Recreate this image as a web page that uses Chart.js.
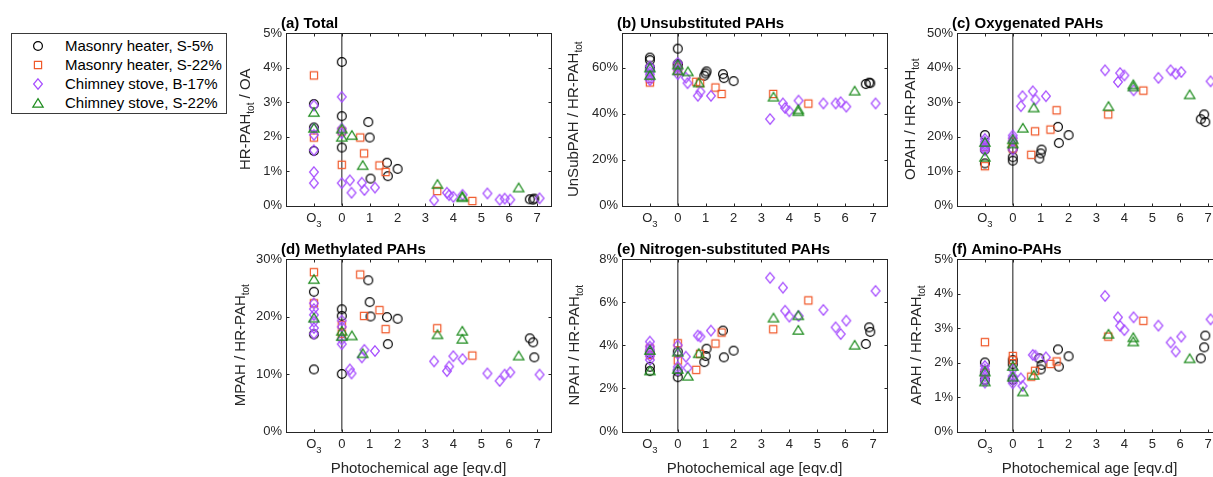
<!DOCTYPE html>
<html><head><meta charset="utf-8">
<script src="https://cdn.jsdelivr.net/npm/chart.js@4.4.1/dist/chart.umd.min.js"></script>
<style>
html,body{margin:0;padding:0;overflow:hidden;background:#fff;width:1213px;height:477px;position:relative;}
canvas.panel{position:absolute;}
#legendBox{position:absolute;left:11px;top:33px;width:216px;height:81px;border:1px solid #3a3a3a;box-sizing:border-box;}
.lgm{position:absolute;}
.lgt{position:absolute;font-family:"Liberation Sans",Arial,sans-serif;font-size:15px;color:#000;white-space:nowrap;line-height:18px;}
</style></head><body>
<div id="legendBox"></div>
<script>
// ---------------- DATA ----------------
const seriesNames = ['Masonry heater, S-5%', 'Masonry heater, S-22%', 'Chimney stove, B-17%', 'Chimney stove, S-22%'];
const xTickValues = [-1, 0, 1, 2, 3, 4, 5, 6, 7];
const xTickLabels = ['O3', '0', '1', '2', '3', '4', '5', '6', '7'];

// photochemical age (x) per series; -1 = O3 position
const xMasonryS5  = [-1, -1, -1, 0, 0, 0, 0.95, 1.0, 1.03, 1.62, 1.65, 2.0, 6.74, 6.86, 6.9];
const xMasonryS22 = [-1, -1, 0, 0, 0.66, 0.8, 1.35, 1.57, 3.42, 4.68];
const xChimneyB17 = [-1, -1, -1, -1, -1, -1, 0, 0, 0, 0, 0.29, 0.35, 0.72, 0.81, 1.19, 3.31, 3.77, 3.85, 4.0, 4.33, 5.22, 5.66, 5.84, 6.04, 7.09];
const xChimneyS22 = [-1, -1, 0, 0, 0.36, 0.75, 3.43, 4.32, 4.32, 6.34];

// (a) Total HR-PAH / OA [%]
const totalS5  = [2.94, 2.26, 1.58, 4.16, 2.59, 1.68, 2.42, 1.97, 0.78, 1.24, 0.85, 1.06, 0.18, 0.17, 0.2];
const totalS22 = [3.77, 1.97, 1.18, 2.15, 1.97, 1.51, 1.16, 0.97, 0.42, 0.13];
const totalB17 = [2.9, 2.23, 2.05, 1.6, 0.97, 0.65, 3.15, 2.23, 2.1, 0.65, 0.73, 0.37, 0.66, 0.45, 0.52, 0.15, 0.37, 0.3, 0.25, 0.31, 0.35, 0.17, 0.2, 0.17, 0.21];
const totalCS22 = [2.71, 2.25, 2.23, 1.99, 2.04, 1.17, 0.62, 0.27, 0.24, 0.52];

// (b) Unsubstituted PAHs [%]
const unsubS5  = [64.3, 63.2, 60, 68.2, 61.6, 61, 56.4, 57.4, 58.3, 57.1, 55.4, 54.1, 52.8, 53.4, 53.2];
const unsubS22 = [53.5, 55, 58.5, 60, 53.8, 53.2, 51.3, 48.5, 48.5, 44.3];
const unsubB17 = [60.5, 59.3, 58, 57, 55.7, 54.5, 62, 60.5, 59, 57.1, 55.6, 53.2, 47.7, 49.5, 47.7, 37.6, 44.4, 42.4, 41.0, 45.6, 44.4, 44.4, 44.9, 43.0, 44.4];
const unsubCS22 = [60.0, 56.7, 61.3, 58.8, 58.3, 53.5, 47.3, 41.8, 41.0, 49.9];

// (c) Oxygenated PAHs [%]
const oxyS5  = [20.4, 16.2, 12.2, 14.0, 13.0, 16.5, 13.6, 15.1, 16.2, 22.8, 18.1, 20.4, 25.0, 26.4, 24.2];
const oxyS22 = [11.4, 17, 16.5, 18.5, 14.7, 21.5, 22.0, 27.6, 26.4, 33.3];
const oxyB17 = [19.3, 18.5, 17.8, 17.2, 16.5, 16.0, 20.3, 19.5, 18.7, 16.2, 28.8, 31.7, 33.1, 30.7, 31.7, 39.2, 35.8, 38.4, 37.7, 33.4, 37.0, 39.2, 38.2, 38.7, 36.0];
const oxyCS22 = [18.4, 14.1, 19.2, 18.0, 22.5, 28.4, 28.8, 35.1, 34.5, 32.2];

// (d) Methylated PAHs [%]
const methS5  = [24.3, 16.9, 10.8, 21.25, 20.1, 10.0, 26.3, 22.5, 20.0, 19.9, 15.2, 19.6, 16.2, 15.5, 12.9];
const methS22 = [27.7, 22.3, 18.5, 17.0, 27.3, 20.1, 21.1, 17.8, 17.95, 13.2];
const methB17 = [22.3, 21.3, 20.3, 19.1, 18.0, 17.0, 19.3, 18.2, 16.0, 15.2, 10.8, 10.1, 12.9, 14.2, 14.0, 12.2, 10.5, 11.3, 13.1, 12.6, 10.1, 8.8, 9.9, 10.3, 9.9];
const methCS22 = [26.5, 19.8, 17.5, 16.6, 16.7, 13.6, 16.9, 17.5, 16.1, 13.2];

// (e) Nitrogen-substituted PAHs [%]
const nitS5  = [3.0, 2.8, 3.65, 3.71, 2.78, 2.52, 3.22, 3.5, 3.84, 4.68, 3.44, 3.75, 4.06, 4.83, 4.62];
const nitS22 = [3.55, 3.85, 4.09, 3.29, 2.86, 3.6, 4.08, 4.59, 4.74, 6.08];
const nitB17 = [4.17, 3.94, 3.8, 3.71, 3.5, 3.32, 4.0, 3.6, 3.0, 2.86, 3.47, 2.95, 4.45, 4.4, 4.68, 7.13, 6.67, 5.6, 5.33, 5.36, 5.64, 4.83, 4.52, 5.14, 6.52];
const nitCS22 = [3.78, 2.83, 3.7, 2.9, 2.58, 3.63, 5.28, 5.39, 4.71, 4.02];

// (f) Amino-PAHs [%]
const aminoS5  = [2.0, 1.7, 1.5, 2.07, 1.95, 1.5, 2.12, 1.8, 1.93, 2.38, 1.88, 2.18, 2.12, 2.44, 2.78];
const aminoS22 = [2.59, 1.7, 2.19, 2.07, 1.59, 1.76, 1.96, 2.03, 2.75, 3.21];
const aminoB17 = [1.9, 1.8, 1.7, 1.6, 1.5, 1.42, 1.8, 1.6, 1.5, 1.4, 1.54, 1.32, 2.22, 2.2, 2.15, 3.93, 3.31, 3.06, 2.94, 3.31, 3.07, 2.58, 2.32, 2.75, 3.25];
const aminoCS22 = [1.74, 1.45, 1.9, 1.59, 1.16, 1.64, 2.83, 2.73, 2.61, 2.12];

// y tick values per panel
const yTicksTotal = [0, 1, 2, 3, 4, 5];
const yTicksUnsub = [0, 20, 40, 60];
const yTicksOxy = [0, 10, 20, 30, 40, 50];
const yTicksMeth = [0, 10, 20, 30];
const yTicksNit = [0, 2, 4, 6, 8];
const yTicksAmino = [0, 1, 2, 3, 4, 5];

// ---------------- STYLE / LAYOUT ----------------
const FONT = '"Liberation Sans", Arial, Helvetica, sans-serif';
const seriesColors = ['#000000', '#F0592A', '#A64DFF', '#1E8C1E'];
const seriesShapes = ['circle', 'square', 'diamond', 'triangle'];
const seriesX = [xMasonryS5, xMasonryS22, xChimneyB17, xChimneyS22];
const PLOT_W = 265, PLOT_H = 172.5;
const CL = 80, CT = 36, CR = 14, CB = 49.5;

const panels = [
  {title: '(a) Total', yTitle: [['HR-PAH', 0], ['tot', 1], [' / OA', 0]], max: 5, ticks: yTicksTotal, ys: [totalS5, totalS22, totalB17, totalCS22], left: 286, top: 33, yDx: -40, xTitle: false},
  {title: '(b) Unsubstituted PAHs', yTitle: [['UnSubPAH / HR-PAH', 0], ['tot', 1]], max: 75, ticks: yTicksUnsub, ys: [unsubS5, unsubS22, unsubB17, unsubCS22], left: 622, top: 33, yDx: -48, xTitle: false},
  {title: '(c) Oxygenated PAHs', yTitle: [['OPAH / HR-PAH', 0], ['tot', 1]], max: 50, ticks: yTicksOxy, ys: [oxyS5, oxyS22, oxyB17, oxyCS22], left: 957, top: 33, yDx: -46, xTitle: false},
  {title: '(d) Methylated PAHs', yTitle: [['MPAH / HR-PAH', 0], ['tot', 1]], max: 30, ticks: yTicksMeth, ys: [methS5, methS22, methB17, methCS22], left: 286, top: 259, yDx: -45, xTitle: true},
  {title: '(e) Nitrogen-substituted PAHs', yTitle: [['NPAH / HR-PAH', 0], ['tot', 1]], max: 8, ticks: yTicksNit, ys: [nitS5, nitS22, nitB17, nitCS22], left: 622, top: 259, yDx: -47, xTitle: true},
  {title: '(f) Amino-PAHs', yTitle: [['APAH / HR-PAH', 0], ['tot', 1]], max: 5, ticks: yTicksAmino, ys: [aminoS5, aminoS22, aminoB17, aminoCS22], left: 957, top: 259, yDx: -40, xTitle: true}
];

function drawShape(g, kind, cx, cy, color) {
  g.strokeStyle = color; g.lineWidth = 1.2; g.beginPath();
  if (kind === 'circle') { g.arc(cx, cy, 4.4, 0, Math.PI * 2); }
  else if (kind === 'square') { g.rect(cx - 3.6, cy - 3.6, 7.2, 7.2); }
  else if (kind === 'diamond') { g.moveTo(cx, cy - 5.2); g.lineTo(cx + 4.4, cy); g.lineTo(cx, cy + 5.2); g.lineTo(cx - 4.4, cy); g.closePath(); }
  else { g.moveTo(cx, cy - 4.4); g.lineTo(cx + 5.2, cy + 4.2); g.lineTo(cx - 5.2, cy + 4.2); g.closePath(); }
  g.stroke();
}
function markerImage(kind, color) {
  const c = document.createElement('canvas'); c.width = 14; c.height = 14;
  drawShape(c.getContext('2d'), kind, 7, 7, color);
  return c;
}

// legend
const lgRowsY = [45.5, 64.5, 84, 103];
seriesNames.forEach((name, i) => {
  const c = document.createElement('canvas'); c.width = 16; c.height = 16; c.className = 'lgm';
  c.style.left = (38.3 - 8) + 'px'; c.style.top = (lgRowsY[i] - 8) + 'px';
  drawShape(c.getContext('2d'), seriesShapes[i], 8, 8, seriesColors[i]);
  document.body.appendChild(c);
  const t = document.createElement('div'); t.className = 'lgt'; t.textContent = name;
  t.style.left = '65px'; t.style.top = (lgRowsY[i] - 9) + 'px';
  document.body.appendChild(t);
});

function framePlugin(p) {
  return {
    id: 'frame',
    beforeDatasetsDraw(chart) {
      const {ctx, chartArea: a, scales: {x}} = chart;
      const px = x.getPixelForValue(0);
      ctx.save(); ctx.strokeStyle = '#5a5a5a'; ctx.lineWidth = 1.4;
      ctx.beginPath(); ctx.moveTo(px, a.top); ctx.lineTo(px, a.bottom); ctx.stroke(); ctx.restore();
    },
    afterDraw(chart) {
      const {ctx, chartArea: a, scales: {x, y}} = chart;
      ctx.save();
      ctx.strokeStyle = '#262626'; ctx.lineWidth = 1;
      const L = Math.round(a.left) + 0.5, R = Math.round(a.right) + 0.5, T = Math.round(a.top) + 0.5, B = Math.round(a.bottom) + 0.5;
      ctx.strokeRect(L, T, R - L, B - T);
      ctx.beginPath();
      xTickValues.forEach(v => { const px = Math.round(x.getPixelForValue(v)) + 0.5; ctx.moveTo(px, B); ctx.lineTo(px, B - 3); ctx.moveTo(px, T); ctx.lineTo(px, T + 3); });
      p.ticks.forEach(v => { const py = Math.round(y.getPixelForValue(v)) + 0.5; ctx.moveTo(L, py); ctx.lineTo(L + 3, py); ctx.moveTo(R, py); ctx.lineTo(R - 3, py); });
      ctx.stroke();
      // O3 tick label with subscript
      ctx.fillStyle = '#262626'; ctx.textBaseline = 'middle'; ctx.textAlign = 'left';
      const lbl = xTickLabels[0];
      const ox = x.getPixelForValue(-1), oy = a.bottom + 5 + 7.8;
      ctx.font = '13px ' + FONT; const w1 = ctx.measureText(lbl[0]).width;
      ctx.font = '9.5px ' + FONT; const w2 = ctx.measureText(lbl.slice(1)).width;
      const sx = ox - (w1 + w2) / 2;
      ctx.font = '13px ' + FONT; ctx.fillText(lbl[0], sx, oy);
      ctx.font = '9.5px ' + FONT; ctx.fillText(lbl.slice(1), sx + w1, oy + 5.7);
      // panel title
      ctx.fillStyle = '#000'; ctx.font = 'bold 15px ' + FONT; ctx.textBaseline = 'alphabetic';
      ctx.fillText(p.title, a.left - 5, a.top - 5);
      // y title
      ctx.save();
      ctx.translate(a.left + p.yDx, (a.top + a.bottom) / 2);
      ctx.rotate(-Math.PI / 2);
      ctx.textBaseline = 'middle'; ctx.fillStyle = '#262626';
      let total = 0;
      const ws = p.yTitle.map(([t, s]) => { ctx.font = (s ? '10px ' : '15px ') + FONT; const w = ctx.measureText(t).width; total += w; return w; });
      let pos = -total / 2;
      p.yTitle.forEach(([t, s], i) => { ctx.font = (s ? '10px ' : '15px ') + FONT; ctx.fillText(t, pos, s ? 5.5 : 0); pos += ws[i]; });
      ctx.restore();
      if (p.xTitle) {
        ctx.font = '15px ' + FONT; ctx.textAlign = 'center'; ctx.textBaseline = 'middle'; ctx.fillStyle = '#262626';
        ctx.fillText('Photochemical age [eqv.d]', (a.left + a.right) / 2, a.bottom + 37);
      }
      ctx.restore();
    }
  };
}

panels.forEach((p) => {
  const cv = document.createElement('canvas');
  cv.className = 'panel';
  const W = CL + PLOT_W + CR, H = CT + PLOT_H + CB;
  cv.width = W; cv.height = H;
  cv.style.width = W + 'px'; cv.style.height = H + 'px';
  cv.style.left = (p.left - CL) + 'px'; cv.style.top = (p.top - CT) + 'px';
  document.body.appendChild(cv);
  const datasets = p.ys.map((ys, i) => ({
    label: seriesNames[i],
    data: seriesX[i].map((xv, k) => ({x: xv, y: ys[k]})),
    pointStyle: markerImage(seriesShapes[i], seriesColors[i]),
    pointRadius: 5, pointHoverRadius: 5,
    showLine: false, clip: false,
    order: 3 - i
  }));
  new Chart(cv, {
    type: 'scatter',
    data: {datasets},
    options: {
      responsive: false, animation: false, devicePixelRatio: 1,
      layout: {padding: {top: CT, right: CR, left: 0, bottom: 0}},
      plugins: {legend: {display: false}, tooltip: {enabled: false}},
      events: [],
      scales: {
        x: {
          type: 'linear', min: -2, max: 7.5,
          grid: {display: false, drawTicks: false}, border: {display: false},
          ticks: {stepSize: 1, includeBounds: false, autoSkip: false, padding: 5, color: '#262626', font: {family: FONT, size: 13},
            callback: (v) => { const idx = xTickValues.indexOf(v); return idx > 0 ? xTickLabels[idx] : ''; }},
          afterFit: (s) => { s.height = CB; }
        },
        y: {
          type: 'linear', min: 0, max: p.max,
          grid: {display: false, drawTicks: false}, border: {display: false},
          ticks: {stepSize: p.ticks[1] - p.ticks[0], includeBounds: false, autoSkip: false, padding: 4, color: '#262626', font: {family: FONT, size: 13},
            callback: (v) => p.ticks.includes(v) ? v + '%' : ''},
          afterFit: (s) => { s.width = CL; }
        }
      }
    },
    plugins: [framePlugin(p)]
  });
});
</script>
</body></html>
